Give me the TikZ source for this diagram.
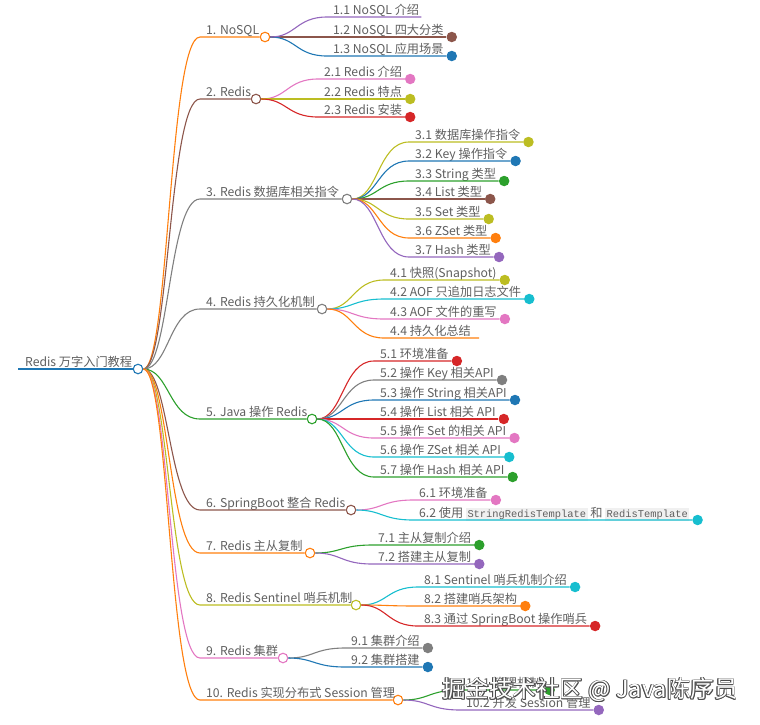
\documentclass[tikz,border=0pt]{standalone}
\usepackage{fontspec}
\newfontfamily\cjk{Noto Sans CJK SC}
\newfontfamily\codefont{Liberation Mono}
\usetikzlibrary{calc}

\definecolor{mBlue}{HTML}{1F77B4}
\definecolor{mOrange}{HTML}{FF7F0E}
\definecolor{mGreen}{HTML}{2CA02C}
\definecolor{mRed}{HTML}{D62728}
\definecolor{mPurple}{HTML}{9467BD}
\definecolor{mBrown}{HTML}{8C564B}
\definecolor{mPink}{HTML}{E377C2}
\definecolor{mGray}{HTML}{7F7F7F}
\definecolor{mOlive}{HTML}{BCBD22}
\definecolor{mCyan}{HTML}{17BECF}
\definecolor{txtgray}{HTML}{5F5F5F}
\definecolor{codebg}{HTML}{F0F0F0}

\newcommand{\codebox}[1]{{\setlength{\fboxsep}{1.5pt}\colorbox{codebg}{\codefont\fontsize{10.4}{12}\selectfont #1}}}

\begin{document}
\begin{tikzpicture}[x=1pt,y=-1pt,
  lbl/.style={anchor=base west,inner sep=0,text=txtgray,font=\cjk\fontsize{12.2}{14}\selectfont},
  knot/.style={circle,draw=#1,fill=white,line width=1.1pt,minimum size=9.5pt,inner sep=0},
  leaf/.style={circle,fill=#1,minimum size=10.5pt,inner sep=0},
  edge/.style={draw=#1,line width=1.1pt},
  wmark/.style={inner sep=0,font=\cjk\fontsize{23.5}{26}\selectfont}]
\useasboundingbox (0,0) rectangle (760,724);

% root
\coordinate (rootl) at (18,369);
\node[knot=mBlue] (root) at (138,369) {};
\node[lbl] (troot) at (25,366) {Redis 万字入门教程};
\draw[edge=mBlue,line width=2pt] (rootl) -- (root);

% chapters
\foreach \i/\yy/\xx/\cc/\tt in {
    1/37/265/mOrange/{1. NoSQL},
    2/99/256/mBrown/{2. Redis},
    3/199/347/mGray/{3. Redis 数据库相关指令},
    4/309/322/mGray/{4. Redis 持久化机制},
    5/419/312/mGreen/{5. Java 操作 Redis},
    6/510/351/mBrown/{6. SpringBoot 整合 Redis},
    7/553/310/mOrange/{7. Redis 主从复制},
    8/605/356/mOlive/{8. Redis Sentinel 哨兵机制},
    9/658/283/mPink/{9. Redis 集群},
    10/700/398/mOrange/{10. Redis 实现分布式 Session 管理}}{
  \coordinate (b\i) at (200,\yy);
  \node[knot=\cc] (n\i) at (\xx,\yy) {};
  \node[lbl] (t\i) at (206,\yy-3) {\tt};
  \draw[edge=\cc] (root) .. controls +(31,0) and +(-31,0) .. (b\i) -- (n\i);
}

% sections
\foreach \p/\px/\k/\yy/\cc/\tt in {
    1/265/2/37/mBrown/{1.2 NoSQL 四大分类},
    1/265/3/56/mBlue/{1.3 NoSQL 应用场景},
    2/256/1/79/mPink/{2.1 Redis 介绍},
    2/256/2/99/mOlive/{2.2 Redis 特点},
    2/256/3/117/mRed/{2.3 Redis 安装},
    3/347/1/142/mOlive/{3.1 数据库操作指令},
    3/347/2/161/mBlue/{3.2 Key 操作指令},
    3/347/3/181/mGreen/{3.3 String 类型},
    3/347/4/199/mBrown/{3.4 List 类型},
    3/347/5/219/mOlive/{3.5 Set 类型},
    3/347/6/238/mOrange/{3.6 ZSet 类型},
    3/347/7/257/mPurple/{3.7 Hash 类型},
    4/322/1/280/mOlive/{4.1 快照(Snapshot)},
    4/322/2/299/mCyan/{4.2 AOF 只追加日志文件},
    4/322/3/319/mPink/{4.3 AOF 文件的重写},
    5/312/1/361/mRed/{5.1 环境准备},
    5/312/2/380/mGray/{5.2 操作 Key 相关API},
    5/312/3/400/mBlue/{5.3 操作 String 相关API},
    5/312/4/419/mRed/{5.4 操作 List 相关 API},
    5/312/5/438/mPink/{5.5 操作 Set 的相关 API},
    5/312/6/457/mCyan/{5.6 操作 ZSet 相关 API},
    5/312/7/477/mGreen/{5.7 操作 Hash 相关 API},
    6/351/1/500/mPink/{6.1 环境准备},
    6/351/2/520/mCyan/{6.2 使用 \codebox{StringRedisTemplate} 和 \codebox{RedisTemplate}},
    7/310/1/545/mGreen/{7.1 主从复制介绍},
    7/310/2/564/mPurple/{7.2 搭建主从复制},
    8/356/1/587/mCyan/{8.1 Sentinel 哨兵机制介绍},
    8/356/2/606/mOrange/{8.2 搭建哨兵架构},
    8/356/3/626/mRed/{8.3 通过 SpringBoot 操作哨兵},
    9/283/1/648/mGray/{9.1 集群介绍},
    9/283/2/667/mBlue/{9.2 集群搭建},
    10/398/1/690/mGreen/{10.1 管理机制},
    10/398/2/710/mPurple/{10.2 开发 Session 管理}}{
  \coordinate (b\p-\k) at (\px+62,\yy);
  \node[lbl] (t\p-\k) at (\px+68,\yy-3) {\tt};
  \node[leaf=\cc] (n\p-\k) at ($(t\p-\k.base east)+(8,3)$) {};
  \draw[edge=\cc] (n\p) .. controls +(31,0) and +(-31,0) .. (b\p-\k) -- (n\p-\k);
}

% sections without end dot
\coordinate (b1-1) at (327,17);
\node[lbl] (t1-1) at (333,14) {1.1 NoSQL 介绍};
\coordinate (n1-1) at ($(t1-1.base east)+(2,3)$);
\draw[edge=mPurple] (n1) .. controls +(31,0) and +(-31,0) .. (b1-1) -- (n1-1);
\coordinate (b4-4) at (384,338);
\node[lbl] (t4-4) at (390,335) {4.4 持久化总结};
\coordinate (n4-4) at ($(t4-4.base east)+(8,3)$);
\draw[edge=mOrange] (n4) .. controls +(31,0) and +(-31,0) .. (b4-4) -- (n4-4);

% watermark
\foreach \j/\dx/\dy in {1/0.9/0,2/-0.9/0,3/0/0.9,4/0/-0.9,5/0.7/0.7,6/-0.7/0.7,7/0.7/-0.7,8/-0.7/-0.7}
  \node[wmark,text=black!70] (wm\j) at (590+\dx,690+\dy) {掘金技术社区 @ Java陈序员};
\node[wmark,text=white] (wm) at (590,690) {掘金技术社区 @ Java陈序员};
\end{tikzpicture}
\end{document}
